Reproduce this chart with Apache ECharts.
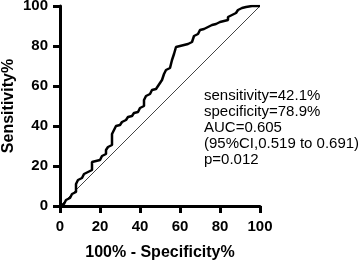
<!DOCTYPE html>
<html lang="en">
<head>
  <meta charset="UTF-8">
  <title>ROC</title>
  <script src="https://cdn.jsdelivr.net/npm/echarts@6/dist/echarts.min.js"></script>
  <style>
    html, body { margin: 0; padding: 0; background: #fff; }
  </style>
</head>
<body>
  <div id="app" style="width: 360px; height: 261px;"></div>
  <script>
    // ROC curve (100% - specificity vs sensitivity)
    var fpr = [0, 1, 2, 3, 4, 5, 6, 7, 8, 9, 10, 11, 12, 13, 14, 15, 16, 17, 18, 19,
      20, 21, 22, 23, 24, 25, 26, 27, 28, 29, 30, 31, 32, 33, 34, 35, 36, 37, 38, 39,
      40, 41, 42, 43, 44, 45, 46, 47, 48, 49, 50, 51, 52, 53, 54, 55, 56, 57, 58, 59,
      60, 61, 62, 63, 64, 65, 66, 67, 68, 69, 70, 71, 72, 73, 74, 75, 76, 77, 78, 79,
      80, 81, 82, 83, 84, 85, 86, 87, 88, 89, 90, 91, 92, 93, 96, 100]
    var tpr = [0, 1, 2, 3, 4, 5, 6, 7, 11, 13, 14, 15, 16, 17, 17.5, 18, 22, 22.5, 23, 23,
      23.5, 25, 26, 28, 29.5, 30.5, 36, 38, 40, 40.5, 41, 42, 43, 44, 44.5, 45, 46, 46.5, 47, 48,
      49, 50, 53, 55, 56, 57, 58, 58.5, 59, 60, 61.5, 63, 66, 68, 69, 70, 73, 76, 79.5, 80,
      80, 80.5, 81, 81, 81.5, 82, 82.5, 85, 86, 87, 88, 88.5, 89, 89.5, 90, 90.5, 91, 91, 91.5, 92,
      92, 92.5, 93, 93, 94.5, 95.5, 96, 96.5, 97, 98, 99, 99.5, 99.5, 100, 100, 100]
    var refLine = [[0, 0], [100, 100]]
    var axisTicks = [0, 20, 40, 60, 80, 100]
    var notes = [
      'sensitivity=42.1%',
      'specificity=78.9%',
      'AUC=0.605',
      '(95%CI,0.519 to 0.691)',
      'p=0.012'
    ]

    var rocData = []
    for (var i = 0; i < fpr.length; i++) {
      rocData.push([fpr[i], tpr[i]])
    }

    var app = document.querySelector('#app')
    var mCharts = echarts.init(app)

    var axisCommon = {
      type: 'value',
      min: axisTicks[0],
      max: axisTicks[axisTicks.length - 1],
      interval: axisTicks[1] - axisTicks[0],
      nameLocation: 'middle',
      nameMoveOverlap: false,
      nameTextStyle: { fontFamily: 'Liberation Sans, Arial', fontWeight: 'bold', fontSize: 16, color: '#000' },
      axisLine: { show: true, lineStyle: { color: '#000', width: 3 } },
      axisTick: { show: true, length: 7, lineStyle: { color: '#000', width: 3 } },
      axisLabel: { fontFamily: 'Liberation Sans, Arial', fontWeight: 'bold', fontSize: 15, color: '#000' },
      splitLine: { show: false }
    }

    var option = {
      animation: false,
      backgroundColor: '#fff',
      grid: { left: 60, right: 100, top: 6, bottom: 55, containLabel: false, outerBoundsMode: 'none' },
      xAxis: Object.assign({}, axisCommon, {
        name: '100% - Specificity%',
        nameGap: 39,
        axisLabel: Object.assign({}, axisCommon.axisLabel, { margin: 13 })
      }),
      yAxis: Object.assign({}, axisCommon, {
        name: 'Sensitivity%',
        nameGap: 43,
        axisLabel: Object.assign({}, axisCommon.axisLabel, { margin: 12 })
      }),
      graphic: [
        {
          type: 'text',
          left: 204,
          top: 88,
          style: {
            text: notes.join('\n'),
            font: '15px "Liberation Sans", Arial',
            lineHeight: 16,
            fill: '#000'
          }
        }
      ],
      series: [
        {
          type: 'line',
          data: refLine,
          symbol: 'none',
          lineStyle: { color: '#444', width: 1 },
          z: 1
        },
        {
          type: 'line',
          data: rocData,
          step: 'end',
          symbol: 'none',
          lineStyle: { color: '#000', width: 2.5 },
          z: 2
        }
      ]
    }
    mCharts.setOption(option)
  </script>
</body>
</html>
